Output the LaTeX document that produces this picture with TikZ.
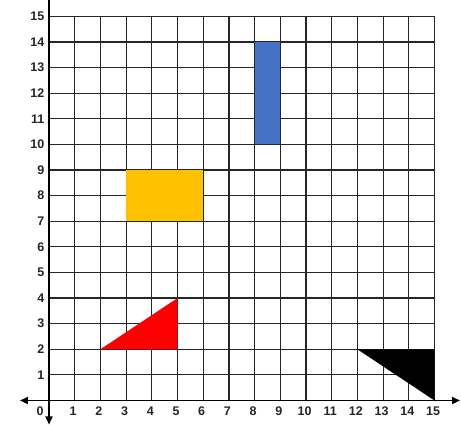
\documentclass[tikz,border=0pt]{standalone}
\usepackage{fontspec}
\setmainfont{Liberation Sans}
\usetikzlibrary{arrows.meta}
\definecolor{gblue}{HTML}{4472C4}
\definecolor{gyellow}{HTML}{FFC000}
\definecolor{gred}{HTML}{FF0000}
\begin{document}
\begin{tikzpicture}[x=25.7pt,y=25.6pt,
  gridline/.style={line width=1.2pt,draw=black!85},
  axisline/.style={line width=1.8pt,draw=black,-{Triangle[length=8pt,width=7pt]}},
  lab/.style={font=\bfseries\fontsize{12.5}{13}\selectfont,inner sep=0pt,text=black!85}]
\useasboundingbox (-49pt,-24.5pt) rectangle (412pt,400.5pt);
\fill[white] (-49pt,-24.5pt) rectangle (412pt,400.5pt);
% grid
\foreach \i in {1,...,15} {
  \draw[gridline] (\i,0) -- (\i,15);
  \draw[gridline] (0,\i) -- (15,\i);
}
% shapes
\fill[gblue] (8,10) rectangle (9,14);
\fill[gyellow] (3,7) rectangle (6,9);
\fill[gred] (2,2) -- (5,2) -- (5,4) -- cycle;
\fill[black] (12,2) -- (15,2) -- (15,0) -- cycle;
% axes
\coordinate (ytop) at (0pt,400.5pt);
\coordinate (ybot) at (0pt,-24pt);
\coordinate (xleft) at (-29pt,0);
\coordinate (xright) at (411pt,0);
\draw[axisline] (ytop) -- (ybot);
\draw[axisline] (0,0) -- (xright);
\draw[axisline] (0,0) -- (xleft);
% labels
\foreach \i in {1,...,15} {
  \node[lab,anchor=east] (yl\i) at ([xshift=-4.5pt]0,\i) {\i};
  \node[lab] (xl\i) at ([xshift=-1.5pt,yshift=-11pt]\i,0) {\i};
}
\node[lab] (xl0) at (-9pt,-11pt) {0};
\end{tikzpicture}
\end{document}
